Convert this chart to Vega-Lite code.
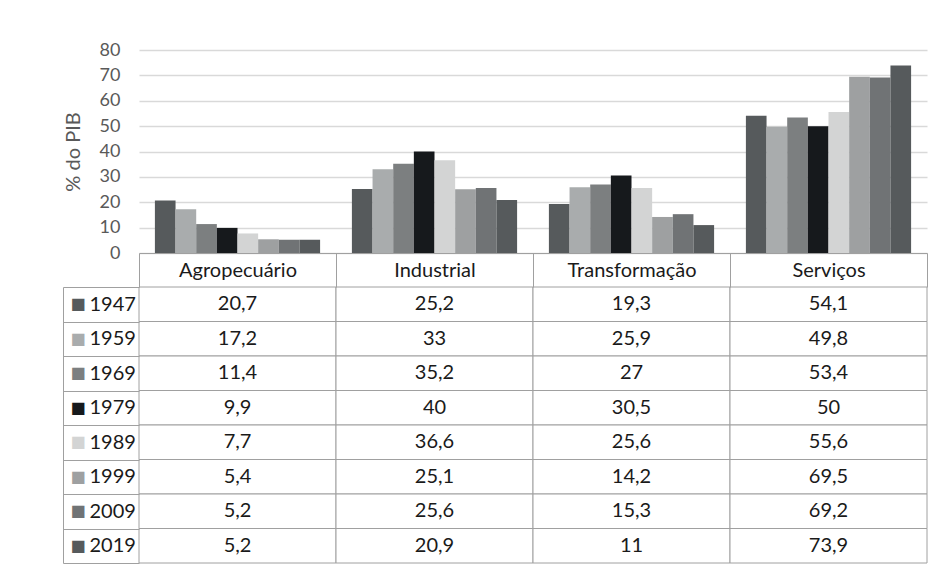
{
  "$schema": "https://vega.github.io/schema/vega-lite/v6.json",
  "autosize": {"type": "pad"},
  "padding": {"left": 62, "top": 41, "right": 5, "bottom": 5},
  "background": "white",
  "config": {
    "font": "Lato",
    "view": {"stroke": null},
    "locale": {"number": {"decimal": ",", "thousands": ".", "grouping": [3], "currency": ["R$", ""]}}
  },
  "data": {
    "values": [
      {"categoria": "Agropecuário", "ano": "1947", "valor": 20.7},
      {"categoria": "Industrial", "ano": "1947", "valor": 25.2},
      {"categoria": "Transformação", "ano": "1947", "valor": 19.3},
      {"categoria": "Serviços", "ano": "1947", "valor": 54.1},
      {"categoria": "Agropecuário", "ano": "1959", "valor": 17.2},
      {"categoria": "Industrial", "ano": "1959", "valor": 33},
      {"categoria": "Transformação", "ano": "1959", "valor": 25.9},
      {"categoria": "Serviços", "ano": "1959", "valor": 49.8},
      {"categoria": "Agropecuário", "ano": "1969", "valor": 11.4},
      {"categoria": "Industrial", "ano": "1969", "valor": 35.2},
      {"categoria": "Transformação", "ano": "1969", "valor": 27},
      {"categoria": "Serviços", "ano": "1969", "valor": 53.4},
      {"categoria": "Agropecuário", "ano": "1979", "valor": 9.9},
      {"categoria": "Industrial", "ano": "1979", "valor": 40},
      {"categoria": "Transformação", "ano": "1979", "valor": 30.5},
      {"categoria": "Serviços", "ano": "1979", "valor": 50},
      {"categoria": "Agropecuário", "ano": "1989", "valor": 7.7},
      {"categoria": "Industrial", "ano": "1989", "valor": 36.6},
      {"categoria": "Transformação", "ano": "1989", "valor": 25.6},
      {"categoria": "Serviços", "ano": "1989", "valor": 55.6},
      {"categoria": "Agropecuário", "ano": "1999", "valor": 5.4},
      {"categoria": "Industrial", "ano": "1999", "valor": 25.1},
      {"categoria": "Transformação", "ano": "1999", "valor": 14.2},
      {"categoria": "Serviços", "ano": "1999", "valor": 69.5},
      {"categoria": "Agropecuário", "ano": "2009", "valor": 5.2},
      {"categoria": "Industrial", "ano": "2009", "valor": 25.6},
      {"categoria": "Transformação", "ano": "2009", "valor": 15.3},
      {"categoria": "Serviços", "ano": "2009", "valor": 69.2},
      {"categoria": "Agropecuário", "ano": "2019", "valor": 5.2},
      {"categoria": "Industrial", "ano": "2019", "valor": 20.9},
      {"categoria": "Transformação", "ano": "2019", "valor": 11},
      {"categoria": "Serviços", "ano": "2019", "valor": 73.9}
    ]
  },
  "bounds": "flush",
  "spacing": 34,
  "vconcat": [
    {
      "width": 788,
      "height": 203,
      "mark": {"type": "bar"},
      "encoding": {
        "x": {
          "field": "categoria", "type": "nominal",
          "sort": ["Agropecuário", "Industrial", "Transformação", "Serviços"],
          "scale": {"paddingInner": 0, "paddingOuter": 0},
          "axis": {"title": null, "labels": false, "ticks": false, "domain": true, "domainColor": "#a0a0a0", "domainWidth": 1}
        },
        "xOffset": {
          "field": "ano", "type": "nominal",
          "sort": ["1947", "1959", "1969", "1979", "1989", "1999", "2009", "2019"],
          "scale": {"paddingInner": 0, "paddingOuter": 0.77}
        },
        "y": {
          "field": "valor", "type": "quantitative",
          "scale": {"domain": [0, 80]},
          "axis": {
            "title": "% do PIB", "values": [0, 10, 20, 30, 40, 50, 60, 70, 80],
            "grid": true, "gridColor": "#d9d9d9", "gridWidth": 1.3,
            "domain": false, "ticks": false, "labelPadding": 19,
            "labelFontSize": 18, "labelColor": "#595959",
            "titleFontSize": 20, "titleFontWeight": "normal", "titleColor": "#595959", "titlePadding": 16
          }
        },
        "color": {
          "field": "ano", "type": "nominal",
          "scale": {
            "domain": ["1947", "1959", "1969", "1979", "1989", "1999", "2009", "2019"],
            "range": ["#565a5c", "#a9acad", "#7c7f80", "#16191c", "#d3d4d4", "#9ea0a1", "#707375", "#565a5c"]
          },
          "legend": null
        }
      }
    },
    {
      "width": 788,
      "height": 276,
      "layer": [
        {
          "mark": {"type": "rect", "fill": "white", "stroke": "#a0a0a0", "strokeWidth": 1},
          "encoding": {
            "x": {
              "field": "categoria", "type": "nominal",
              "sort": ["Agropecuário", "Industrial", "Transformação", "Serviços"],
              "scale": {"paddingInner": 0, "paddingOuter": 0},
              "axis": {
                "orient": "top", "title": null, "domain": false, "ticks": true, "tickBand": "extent",
                "tickSize": 34, "tickColor": "#a0a0a0", "labelPadding": -17, "labelBaseline": "middle",
                "labelAngle": 0, "labelFontSize": 20, "labelColor": "#1a1a1a"
              }
            },
            "y": {
              "field": "ano", "type": "nominal",
              "sort": ["1947", "1959", "1969", "1979", "1989", "1999", "2009", "2019"],
              "scale": {"paddingInner": 0, "paddingOuter": 0},
              "axis": {
                "orient": "left", "title": null, "domain": false, "ticks": true, "tickBand": "extent",
                "tickSize": 76, "tickColor": "#a0a0a0", "labelAlign": "left", "labelPadding": -26,
                "labelFontSize": 20, "labelColor": "#1a1a1a"
              }
            }
          }
        },
        {
          "mark": {"type": "text", "fontSize": 20, "color": "#1a1a1a"},
          "encoding": {
            "x": {
              "field": "categoria", "type": "nominal",
              "sort": ["Agropecuário", "Industrial", "Transformação", "Serviços"],
              "axis": null
            },
            "y": {
              "field": "ano", "type": "nominal",
              "sort": ["1947", "1959", "1969", "1979", "1989", "1999", "2009", "2019"],
              "axis": {
                "orient": "left", "offset": 76, "title": null, "domain": true, "domainColor": "#a0a0a0",
                "ticks": false, "labelExpr": "'■'", "labelAlign": "left", "labelPadding": -7,
                "labelFont": "DejaVu Sans", "labelFontSize": 16,
                "labelColor": {
                  "condition": [
                    {"test": "datum.value === '1959'", "value": "#a9acad"},
                    {"test": "datum.value === '1969'", "value": "#7c7f80"},
                    {"test": "datum.value === '1979'", "value": "#16191c"},
                    {"test": "datum.value === '1989'", "value": "#d3d4d4"},
                    {"test": "datum.value === '1999'", "value": "#9ea0a1"},
                    {"test": "datum.value === '2009'", "value": "#707375"}
                  ],
                  "value": "#565a5c"
                }
              }
            },
            "text": {"field": "valor", "type": "quantitative", "format": ".3~r"}
          }
        }
      ],
      "resolve": {"axis": {"y": "independent", "x": "independent"}}
    }
  ]
}
